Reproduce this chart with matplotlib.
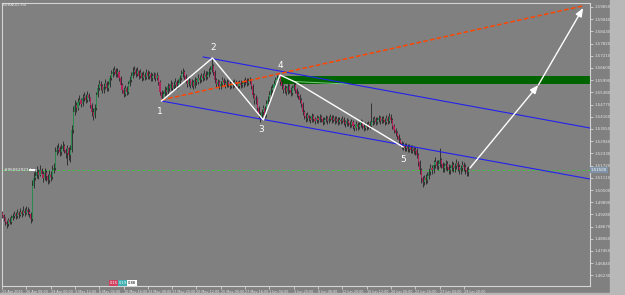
"""
EURAUD H4 chart with wave count, channel and projection.
"""
import matplotlib
matplotlib.use("Agg")
import matplotlib.pyplot as plt
from matplotlib.patches import Rectangle

# ── Data ──────────────────────────────────────────────────────────
first_open = 1.4935

closes = [
    1.4925, 1.4910, 1.4890, 1.4880, 1.4900, 1.4890, 1.4910, 1.4920, 1.4930, 1.4920,
    1.4935, 1.4925, 1.4940, 1.4930, 1.4945, 1.4935, 1.4950, 1.4940, 1.4930, 1.4905,
    1.5070, 1.5110, 1.5120, 1.5140, 1.5125, 1.5150, 1.5130, 1.5110, 1.5135, 1.5120,
    1.5100, 1.5125, 1.5115, 1.5150, 1.5160,
    1.5240, 1.5250, 1.5260, 1.5240, 1.5255, 1.5270, 1.5250, 1.5235, 1.5260, 1.5225,
    1.5250, 1.5350, 1.5440,
    1.5475, 1.5460, 1.5490, 1.5500, 1.5480, 1.5510, 1.5520, 1.5500, 1.5525, 1.5510,
    1.5475, 1.5440, 1.5420, 1.5460,
    1.5525, 1.5560, 1.5580, 1.5570, 1.5550, 1.5565, 1.5585, 1.5560, 1.5575, 1.5610,
    1.5630, 1.5640, 1.5650, 1.5630, 1.5640, 1.5610,
    1.5575, 1.5550, 1.5530, 1.5560, 1.5540, 1.5580, 1.5600, 1.5620, 1.5640, 1.5650,
    1.5630, 1.5645, 1.5620, 1.5635, 1.5610, 1.5625, 1.5615, 1.5640, 1.5620, 1.5630,
    1.5610, 1.5620, 1.5625, 1.5610, 1.5620, 1.5590, 1.5540, 1.5510,
    1.5530, 1.5550, 1.5540, 1.5570, 1.5560, 1.5580, 1.5560, 1.5575, 1.5590, 1.5570,
    1.5585, 1.5610, 1.5630, 1.5640, 1.5620, 1.5600, 1.5580, 1.5600, 1.5575, 1.5590,
    1.5570, 1.5600, 1.5590, 1.5610, 1.5600, 1.5620, 1.5610, 1.5630, 1.5615, 1.5625,
    1.5640, 1.5650,
    1.5670, 1.5640, 1.5600, 1.5580, 1.5590, 1.5570, 1.5580, 1.5600, 1.5585, 1.5575,
    1.5590, 1.5580, 1.5570, 1.5585, 1.5575, 1.5590, 1.5580, 1.5570, 1.5585, 1.5575,
    1.5580, 1.5590, 1.5600, 1.5585, 1.5595, 1.5600,
    1.5570, 1.5525, 1.5500, 1.5510, 1.5460, 1.5425, 1.5410, 1.5440, 1.5460, 1.5425,
    1.5480, 1.5500, 1.5525, 1.5550, 1.5560, 1.5580, 1.5600, 1.5610, 1.5620, 1.5590,
    1.5570, 1.5550, 1.5560, 1.5540, 1.5570, 1.5550, 1.5535, 1.5560, 1.5575, 1.5550,
    1.5530, 1.5520, 1.5500, 1.5480, 1.5440, 1.5420, 1.5410, 1.5425,
    1.5410, 1.5400, 1.5420, 1.5405, 1.5395, 1.5410, 1.5400, 1.5415, 1.5405, 1.5390,
    1.5400, 1.5410, 1.5395, 1.5405, 1.5415, 1.5400, 1.5410, 1.5395, 1.5405, 1.5390,
    1.5400, 1.5395, 1.5405, 1.5390, 1.5380, 1.5395, 1.5385, 1.5375, 1.5390, 1.5370,
    1.5360, 1.5380, 1.5365, 1.5375, 1.5390, 1.5370, 1.5360, 1.5375, 1.5365, 1.5380,
    1.5370, 1.5390,
    1.5395, 1.5405, 1.5390, 1.5400, 1.5410, 1.5395, 1.5405, 1.5400, 1.5390, 1.5410,
    1.5395, 1.5415, 1.5400, 1.5370, 1.5350, 1.5335, 1.5320, 1.5300, 1.5285, 1.5270,
    1.5275, 1.5260, 1.5270, 1.5255, 1.5265, 1.5250, 1.5260, 1.5245, 1.5250,
    1.5225, 1.5190, 1.5150, 1.5110, 1.5090, 1.5110, 1.5100, 1.5120, 1.5140, 1.5160,
    1.5150, 1.5175, 1.5190, 1.5170, 1.5180, 1.5200, 1.5180, 1.5160, 1.5170, 1.5180,
    1.5165, 1.5150, 1.5160, 1.5175, 1.5160, 1.5170, 1.5185, 1.5165, 1.5150, 1.5160,
    1.5175, 1.5165, 1.5150, 1.5140, 1.5150,
]

highs = [
    1.4945, 1.4930, 1.4915, 1.4900, 1.4910, 1.4915, 1.4925, 1.4935, 1.4945, 1.4940,
    1.4955, 1.4945, 1.4960, 1.4950, 1.4970, 1.4960, 1.4970, 1.4965, 1.4955, 1.4940,
    1.5100, 1.5140, 1.5150, 1.5170, 1.5155, 1.5175, 1.5160, 1.5145, 1.5160, 1.5150,
    1.5130, 1.5150, 1.5145, 1.5175, 1.5185,
    1.5265, 1.5275, 1.5285, 1.5270, 1.5280, 1.5295, 1.5280, 1.5260, 1.5275, 1.5265,
    1.5275, 1.5375, 1.5470,
    1.5500, 1.5490, 1.5510, 1.5525, 1.5510, 1.5530, 1.5540, 1.5530, 1.5545, 1.5535,
    1.5515, 1.5485, 1.5460, 1.5480,
    1.5540, 1.5580, 1.5600, 1.5595, 1.5580, 1.5585, 1.5605, 1.5595, 1.5595, 1.5625,
    1.5650, 1.5660, 1.5670, 1.5660, 1.5660, 1.5650,
    1.5620, 1.5585, 1.5565, 1.5575, 1.5570, 1.5595, 1.5620, 1.5640, 1.5665, 1.5670,
    1.5660, 1.5665, 1.5650, 1.5655, 1.5640, 1.5645, 1.5640, 1.5655, 1.5650, 1.5645,
    1.5640, 1.5635, 1.5640, 1.5635, 1.5640, 1.5625, 1.5600, 1.5550,
    1.5545, 1.5570, 1.5565, 1.5585, 1.5580, 1.5600, 1.5590, 1.5595, 1.5610, 1.5600,
    1.5605, 1.5625, 1.5650, 1.5660, 1.5650, 1.5630, 1.5610, 1.5615, 1.5605, 1.5605,
    1.5600, 1.5615, 1.5610, 1.5630, 1.5625, 1.5635, 1.5635, 1.5650, 1.5645, 1.5645,
    1.5660, 1.5670,
    1.5705, 1.5680, 1.5650, 1.5610, 1.5605, 1.5600, 1.5595, 1.5615, 1.5610, 1.5600,
    1.5605, 1.5600, 1.5595, 1.5600, 1.5600, 1.5605, 1.5600, 1.5595, 1.5600, 1.5600,
    1.5595, 1.5605, 1.5615, 1.5610, 1.5610, 1.5615,
    1.5605, 1.5580, 1.5535, 1.5525, 1.5515, 1.5470, 1.5440, 1.5455, 1.5475, 1.5470,
    1.5500, 1.5520, 1.5545, 1.5570, 1.5580, 1.5600, 1.5615, 1.5625, 1.5630, 1.5620,
    1.5600, 1.5580, 1.5575, 1.5570, 1.5585, 1.5580, 1.5565, 1.5575, 1.5590, 1.5585,
    1.5560, 1.5545, 1.5530, 1.5510, 1.5490, 1.5450, 1.5435, 1.5440,
    1.5425, 1.5420, 1.5435, 1.5430, 1.5415, 1.5425, 1.5420, 1.5430, 1.5425, 1.5415,
    1.5415, 1.5425, 1.5420, 1.5420, 1.5430, 1.5425, 1.5425, 1.5420, 1.5420, 1.5415,
    1.5415, 1.5410, 1.5420, 1.5415, 1.5400, 1.5410, 1.5405, 1.5395, 1.5405, 1.5400,
    1.5380, 1.5395, 1.5390, 1.5390, 1.5405, 1.5400, 1.5380, 1.5390, 1.5390, 1.5395,
    1.5395, 1.5485,
    1.5415, 1.5420, 1.5415, 1.5415, 1.5425, 1.5420, 1.5420, 1.5420, 1.5410, 1.5425,
    1.5420, 1.5435, 1.5430, 1.5410, 1.5380, 1.5360, 1.5345, 1.5330, 1.5310, 1.5295,
    1.5290, 1.5285, 1.5285, 1.5280, 1.5280, 1.5275, 1.5275, 1.5270, 1.5265,
    1.5260, 1.5235, 1.5200, 1.5160, 1.5120, 1.5125, 1.5130, 1.5140, 1.5160, 1.5180,
    1.5175, 1.5200, 1.5215, 1.5200, 1.5200, 1.5260, 1.5210, 1.5190, 1.5185, 1.5200,
    1.5195, 1.5180, 1.5175, 1.5195, 1.5190, 1.5185, 1.5205, 1.5195, 1.5180, 1.5175,
    1.5195, 1.5190, 1.5180, 1.5165, 1.5170,
]

lows = [
    1.4910, 1.4895, 1.4875, 1.4860, 1.4870, 1.4880, 1.4880, 1.4900, 1.4910, 1.4905,
    1.4910, 1.4910, 1.4920, 1.4915, 1.4925, 1.4920, 1.4930, 1.4925, 1.4915, 1.4885,
    1.4895, 1.5060, 1.5100, 1.5110, 1.5105, 1.5120, 1.5115, 1.5090, 1.5100, 1.5095,
    1.5080, 1.5085, 1.5095, 1.5105, 1.5135,
    1.5150, 1.5225, 1.5235, 1.5220, 1.5225, 1.5245, 1.5235, 1.5210, 1.5175, 1.5200,
    1.5190, 1.5240, 1.5335,
    1.5425, 1.5440, 1.5450, 1.5475, 1.5465, 1.5470, 1.5495, 1.5485, 1.5490, 1.5495,
    1.5460, 1.5420, 1.5400, 1.5410,
    1.5450, 1.5515, 1.5550, 1.5550, 1.5535, 1.5535, 1.5555, 1.5545, 1.5545, 1.5565,
    1.5600, 1.5615, 1.5625, 1.5615, 1.5615, 1.5595,
    1.5560, 1.5535, 1.5515, 1.5520, 1.5525, 1.5530, 1.5570, 1.5590, 1.5610, 1.5625,
    1.5615, 1.5620, 1.5605, 1.5610, 1.5595, 1.5600, 1.5600, 1.5605, 1.5605, 1.5605,
    1.5595, 1.5595, 1.5605, 1.5595, 1.5600, 1.5575, 1.5525, 1.5495,
    1.5500, 1.5520, 1.5525, 1.5530, 1.5545, 1.5550, 1.5545, 1.5550, 1.5560, 1.5555,
    1.5560, 1.5575, 1.5600, 1.5615, 1.5605, 1.5585, 1.5565, 1.5570, 1.5560, 1.5565,
    1.5555, 1.5560, 1.5575, 1.5580, 1.5585, 1.5590, 1.5595, 1.5600, 1.5600, 1.5605,
    1.5615, 1.5630,
    1.5640, 1.5625, 1.5585, 1.5565, 1.5565, 1.5555, 1.5555, 1.5570, 1.5570, 1.5560,
    1.5565, 1.5565, 1.5555, 1.5560, 1.5560, 1.5565, 1.5565, 1.5555, 1.5560, 1.5560,
    1.5565, 1.5565, 1.5575, 1.5570, 1.5575, 1.5580,
    1.5555, 1.5510, 1.5480, 1.5480, 1.5445, 1.5410, 1.5390, 1.5400, 1.5425, 1.5410,
    1.5415, 1.5470, 1.5490, 1.5515, 1.5535, 1.5550, 1.5570, 1.5590, 1.5600, 1.5575,
    1.5555, 1.5535, 1.5535, 1.5525, 1.5530, 1.5535, 1.5520, 1.5525, 1.5550, 1.5535,
    1.5515, 1.5505, 1.5485, 1.5465, 1.5425, 1.5405, 1.5390, 1.5395,
    1.5395, 1.5385, 1.5390, 1.5390, 1.5380, 1.5385, 1.5385, 1.5390, 1.5390, 1.5375,
    1.5380, 1.5390, 1.5380, 1.5385, 1.5395, 1.5385, 1.5390, 1.5380, 1.5385, 1.5375,
    1.5380, 1.5380, 1.5385, 1.5375, 1.5365, 1.5370, 1.5370, 1.5360, 1.5365, 1.5355,
    1.5345, 1.5350, 1.5350, 1.5355, 1.5365, 1.5355, 1.5345, 1.5350, 1.5350, 1.5355,
    1.5355, 1.5360,
    1.5375, 1.5380, 1.5375, 1.5380, 1.5390, 1.5380, 1.5385, 1.5385, 1.5375, 1.5380,
    1.5380, 1.5385, 1.5385, 1.5355, 1.5335, 1.5320, 1.5305, 1.5285, 1.5270, 1.5255,
    1.5250, 1.5245, 1.5245, 1.5240, 1.5240, 1.5235, 1.5235, 1.5230, 1.5225,
    1.5210, 1.5170, 1.5130, 1.5085, 1.5065, 1.5075, 1.5080, 1.5085, 1.5105, 1.5125,
    1.5130, 1.5135, 1.5160, 1.5155, 1.5150, 1.5165, 1.5160, 1.5140, 1.5140, 1.5150,
    1.5145, 1.5130, 1.5130, 1.5145, 1.5140, 1.5140, 1.5155, 1.5145, 1.5130, 1.5130,
    1.5145, 1.5145, 1.5130, 1.5120, 1.5120,
]

# x-axis labels every 16 H4 bars
date_labels = [
    "21 Apr 2016", "26 Apr 08:00", "29 Apr 00:00", "3 May 12:00", "6 May 04:00",
    "10 May 16:00", "13 May 08:00", "17 May 20:00", "20 May 12:00", "25 May 00:00",
    "27 May 16:00", "1 Jun 04:00", "3 Jun 20:00", "8 Jun 08:00", "12 Jun 20:00",
    "15 Jun 12:00", "20 Jun 00:00", "22 Jun 16:00", "27 Jun 04:00", "29 Jun 20:00",
]
label_step = 16

price_ticks = [
    1.59650, 1.59040, 1.58430, 1.57820, 1.57210, 1.56600, 1.55990, 1.55380,
    1.54770, 1.54160, 1.53550, 1.52940, 1.52330, 1.51720, 1.51110, 1.50500,
    1.49890, 1.49280, 1.48670, 1.48060, 1.47450, 1.46840, 1.46230,
]

# wave count 1-5 (bar index, price)
wave_bars   = [105, 138.5, 172, 183, 193, 264]
wave_prices = [1.5495, 1.5710, 1.5400, 1.5625, 1.5590, 1.5265]
wave_names  = ["1", "2", "3", "4", "5"]
wave_label_bars   = [104, 139, 170.5, 183, 264]
wave_label_prices = [1.5440, 1.5760, 1.5350, 1.5675, 1.5200]

# projection arrow
proj_bars   = [308, 353, 382.5]
proj_prices = [1.5160, 1.5575, 1.5960]

# 1-4 trend line (extended)
trend_bars   = [105, 382]
trend_prices = [1.5500, 1.5970]

# channel
chan_up_bars   = [132.5, 387]
chan_up_prices = [1.5715, 1.5360]
chan_lo_bars   = [105, 387]
chan_lo_prices = [1.5495, 1.5105]

# supply zone
zone_start, zone_end = 183, 387
zone_low, zone_high  = 1.5580, 1.5620
zone_line_bars   = [193, 227]
zone_line_prices = [1.5592, 1.5580]

# open order
order_price = 1.5150
order_text  = "#95062923 buy"

x_min, x_max = 0.3, 387.0
y_min, y_max = 1.4570, 1.5985

# ── Style ─────────────────────────────────────────────────────────
BG       = "#808080"
FRAME    = "#d4d4d4"
TXT      = "#e6e6e6"
BULL     = "#2a8a50"
BEAR     = "#b4245c"
WICK     = "#262626"

n = len(closes)
assert len(highs) == n and len(lows) == n, (len(closes), len(highs), len(lows))
opens = [first_open] + closes[:-1]
idx = list(range(n))

fig = plt.figure(figsize=(6.25, 2.95), dpi=100)
fig.patch.set_facecolor(BG)

W, H = 625, 295
ax = fig.add_axes([2 / W, (H - 286) / H, 588 / W, 283 / H])
ax.set_facecolor(BG)

# window edge strips
fig.patches.append(Rectangle((610 / W, 0), 15 / W, 1, transform=fig.transFigure,
                             color="#b8b8b8", zorder=0))
fig.patches.append(Rectangle((0, 0), 1, 2 / H, transform=fig.transFigure,
                             color="#b8b8b8", zorder=0))

# ── Candles ───────────────────────────────────────────────────────
ax.vlines(idx, lows, highs, color=WICK, lw=0.6, zorder=3)
body_bottom = [min(o, c) for o, c in zip(opens, closes)]
body_height = [max(abs(c - o), 0.0002) for o, c in zip(opens, closes)]
body_color  = [BULL if c >= o else BEAR for o, c in zip(opens, closes)]
ax.bar(idx, body_height, bottom=body_bottom, width=0.7, color=body_color,
       linewidth=0, zorder=4)

# ── Drawings ──────────────────────────────────────────────────────
ax.add_patch(Rectangle((zone_start, zone_low), zone_end - zone_start,
                       zone_high - zone_low, color="#006400", lw=0, zorder=2))
ax.plot(zone_line_bars, zone_line_prices, color="#7ccf7c", lw=0.7, zorder=5)

ax.axhline(order_price, color="#32cd32", lw=0.6, ls=(0, (3, 3)), zorder=2)
ax.text(x_min + 1, order_price, order_text, color="white", fontsize=3,
        va="center", ha="left", zorder=6)
ax.add_patch(Rectangle((18, order_price - 0.0006), 4, 0.0012, color="white",
                       lw=0, zorder=6))

ax.plot(chan_up_bars, chan_up_prices, color="#2222ee", lw=0.8, zorder=5)
ax.plot(chan_lo_bars, chan_lo_prices, color="#2222ee", lw=0.8, zorder=5)
ax.plot(trend_bars, trend_prices, color="#ff4500", lw=1.1,
        ls=(0, (3, 1.5)), zorder=5)

ax.plot(wave_bars, wave_prices, color="white", lw=1.0, zorder=6)
for name, xb, yp in zip(wave_names, wave_label_bars, wave_label_prices):
    ax.text(xb, yp, name, color="white", fontsize=6.5, ha="center",
            va="center", zorder=7)

for (x0, y0), (x1, y1) in zip(zip(proj_bars[:-1], proj_prices[:-1]),
                              zip(proj_bars[1:], proj_prices[1:])):
    ax.annotate("", xy=(x1, y1), xytext=(x0, y0), zorder=7,
                arrowprops=dict(arrowstyle="-|>,head_length=0.5,head_width=0.2",
                                color="white", lw=1.0, shrinkA=0, shrinkB=0))

# ── Axes ──────────────────────────────────────────────────────────
ax.set_xlim(x_min, x_max)
ax.set_ylim(y_min, y_max)
for side in ["left", "top", "bottom", "right"]:
    ax.spines[side].set_color(FRAME)
    ax.spines[side].set_linewidth(0.8)

ax.yaxis.tick_right()
ax.set_yticks(price_ticks)
ax.set_yticklabels([f"{p:.5f}" for p in price_ticks])
ax.set_xticks([k * label_step for k in range(len(date_labels))])
ax.set_xticklabels(date_labels, ha="left")
ax.tick_params(axis="both", colors=FRAME, labelcolor=TXT, labelsize=2.9,
               length=2, width=0.6, pad=1)
ax.tick_params(axis="x", labelsize=2.4)

# bid price marker on the price scale
ax.text(1.001, order_price, f"{order_price:.5f}", transform=ax.get_yaxis_transform(),
        fontsize=2.9, color="white", va="center", ha="left", zorder=8,
        bbox=dict(boxstyle="square,pad=0.25", fc="#7f93a8", ec="none"))

# title and spread widget
fig.text(3 / W, 1 - 5 / H, "EURAUD,H4", color=TXT, fontsize=3, va="center")
for xpx, txt, fc, tc in [(110, "0.15", "#d04060", "white"),
                         (119, "0.19", "#40b0b0", "white"),
                         (128, "0.88", "white", "black")]:
    fig.text(xpx / W, 1 - 283 / H, txt, fontsize=2.6, color=tc, va="center",
             bbox=dict(boxstyle="square,pad=0.25", fc=fc, ec="none"))

fig.savefig("out.png", dpi=100, facecolor=fig.get_facecolor())
